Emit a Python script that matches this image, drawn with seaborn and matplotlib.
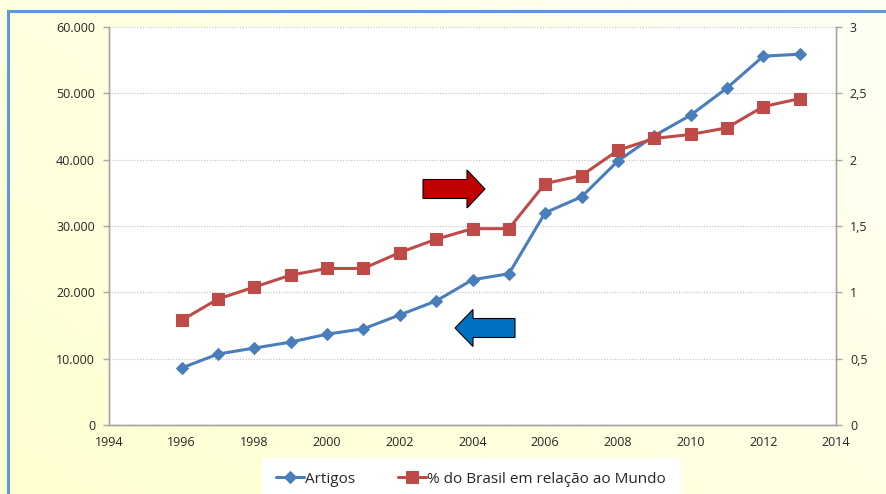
import numpy as np
import matplotlib
matplotlib.use("Agg")
import matplotlib.pyplot as plt
import matplotlib.ticker as mticker
from matplotlib.patches import FancyArrow, Rectangle
import pandas as pd
import seaborn as sns

anos = list(range(1996, 2014))
artigos = [8600, 10700, 11600, 12500, 13700, 14500, 16600, 18700, 21900,
           22800, 32000, 34400, 39800, 43600, 46700, 50800, 55600, 55900]
pct_mundo = [0.79, 0.95, 1.04, 1.13, 1.18, 1.18, 1.30, 1.40, 1.48,
             1.48, 1.82, 1.88, 2.07, 2.16, 2.19, 2.24, 2.40, 2.46]

df = pd.DataFrame({"ano": anos, "Artigos": artigos, "pct": pct_mundo})

sns.set_style("white")
plt.rcParams['font.family'] = ['Open Sans', 'DejaVu Sans']

azul = "#4A7EBB"
vermelho = "#BE4B48"
cinza = "#A6A6A6"

W, H = 887, 494
fig = plt.figure(figsize=(8.87, 4.94), dpi=100)
fig.patch.set_facecolor("#FEFEE4")

# soft yellow gradient background
bg = fig.add_axes([0, 0, 1, 1], zorder=-10)
gx, gy = np.meshgrid(np.linspace(0, 1, 200), np.linspace(0, 1, 120))
mix = np.clip(0.55 * gx + 0.45 * (1 - gy), 0, 1)
c1 = np.array([1.0, 1.0, 0.82])
c2 = np.array([1.0, 1.0, 0.96])
img = c1[None, None, :] * (1 - mix[..., None]) + c2[None, None, :] * mix[..., None]
bg.imshow(img, aspect="auto", extent=[0, 1, 0, 1], origin="upper")
bg.set_axis_off()
bg.add_patch(Rectangle((0.0095, -0.05), 1.1, 1.028, fill=False,
                       edgecolor="#5B9BD5", linewidth=2.2,
                       transform=bg.transAxes, clip_on=False))

ax = fig.add_axes([109 / W, 1 - 425 / H, 727 / W, 398 / H])
ax.set_facecolor("white")

sns.lineplot(data=df, x="ano", y="Artigos", ax=ax, color=azul, marker="D",
             markersize=6, markeredgecolor=azul, linewidth=2.2, label="Artigos",
             legend=False)
ax.set_xlim(1994, 2014)
ax.set_ylim(0, 60000)
ax.set_xticks(range(1994, 2015, 2))
ax.set_yticks(range(0, 60001, 10000))
ax.yaxis.set_major_formatter(mticker.FuncFormatter(
    lambda v, p: f"{int(v):,}".replace(",", ".")))
ax.grid(axis="y", color="#BFBFBF", linestyle=(0, (1, 1.5)), linewidth=0.8)
ax.set_xlabel("")
ax.set_ylabel("")

ax2 = ax.twinx()
sns.lineplot(data=df, x="ano", y="pct", ax=ax2, color=vermelho, marker="s",
             markersize=8, markeredgecolor=vermelho, linewidth=2.2,
             label="% do Brasil em relação ao Mundo", legend=False)
ax2.set_ylim(0, 3)
ax2.set_yticks(np.arange(0, 3.01, 0.5))
ax2.yaxis.set_major_formatter(mticker.FuncFormatter(
    lambda v, p: f"{v:g}".replace(".", ",")))
ax2.set_ylabel("")

for a in (ax, ax2):
    a.spines["top"].set_visible(False)
    for s in ["left", "right", "bottom"]:
        a.spines[s].set_color(cinza)
        a.spines[s].set_linewidth(1)
    a.tick_params(axis="both", colors=cinza, labelcolor="#262626",
                  labelsize=9, length=4, width=1, direction="out")
ax.tick_params(axis="x", pad=4)
ax.tick_params(axis="y", pad=6)
ax2.tick_params(axis="y", pad=6)

# arrows (pixel coordinates, origin at bottom)
ax.add_patch(FancyArrow(423, H - 189, 44, 0, width=19, head_width=38,
                        head_length=18, length_includes_head=False,
                        facecolor="#C00000", edgecolor="black", linewidth=0.8,
                        transform=None, zorder=5))
ax.add_patch(FancyArrow(515, H - 328, -42, 0, width=19, head_width=37,
                        head_length=18, length_includes_head=False,
                        facecolor="#0070C0", edgecolor="black", linewidth=0.8,
                        transform=None, zorder=5))

# legend
h1, l1 = ax.get_legend_handles_labels()
h2, l2 = ax2.get_legend_handles_labels()
leg = fig.legend(h1 + h2, l1 + l2, loc="center", ncol=2,
                 bbox_to_anchor=(471 / W, 1 - 479 / H), frameon=True,
                 fontsize=11, handlelength=1.8, columnspacing=2.8,
                 handletextpad=0.1, borderpad=0.9)
leg.get_frame().set_facecolor("white")
leg.get_frame().set_edgecolor("white")
leg.get_frame().set_alpha(1)
leg.get_frame().set_boxstyle("square", pad=0.0)

fig.savefig("out.png", dpi=100, facecolor=fig.get_facecolor())
